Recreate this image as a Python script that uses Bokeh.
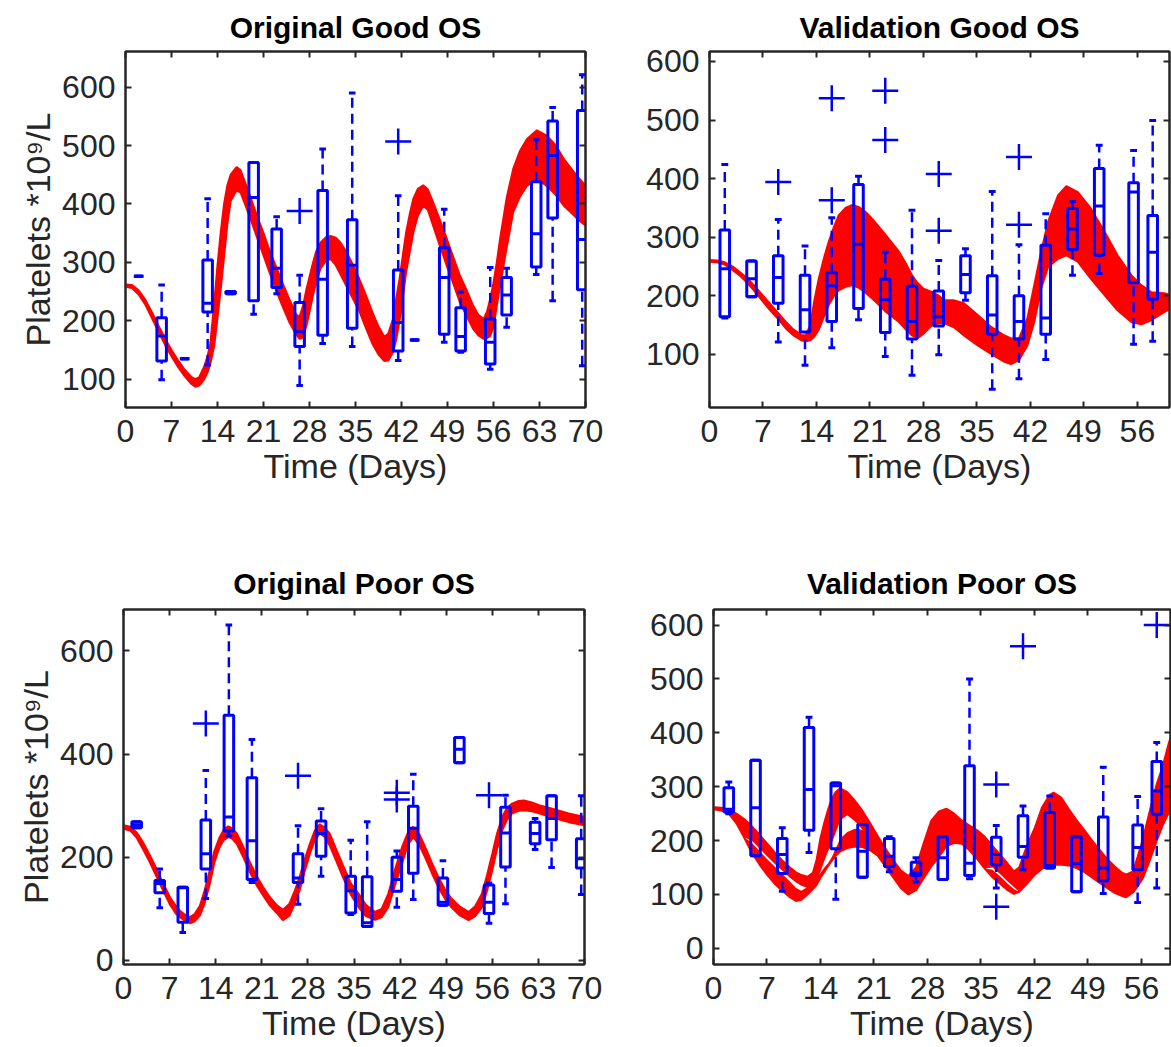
import numpy as np
from bokeh.plotting import figure
from bokeh.models import LinearAxis, FixedTicker, Range1d
from bokeh.layouts import row, column
from bokeh.embed import file_html
from bokeh.resources import INLINE

FONT = "Liberation Sans"
AX = "#262626"
BLUE = "#0000FF"
RED = "#FF0000"

titles = ["Original Good OS", "Validation Good OS", "Original Poor OS", "Validation Poor OS"]
x_label = "Time (Days)"
y_label = "Platelets *10\u2079/L"

# ---------------- Panel 1: Original Good OS ----------------
p1_pos    = [2, 5.5, 9, 12.5, 16, 19.5, 23, 26.5, 30, 34.5, 41.5, 44, 48.5, 51, 55.5, 58, 62.5, 65, 69.5]
p1_whislo = [276, 99, 135, 124, 246, 211, 246, 89, 161, 156, 132, 167, 163, 146, 117, 189, 279, 234, 123]
p1_q1     = [276, 131, 135, 215, 246, 234, 257, 156, 175, 187, 148, 167, 177, 148, 126, 210, 292, 376, 253]
p1_med    = [276, 174, 135, 230, 248, 411, 290, 181, 271, 295, 197, 167, 274, 173, 163, 244, 349, 483, 339]
p1_q3     = [276, 205, 135, 304, 250, 471, 357, 231, 423, 373, 287, 167, 325, 222, 203, 274, 438, 542, 560]
p1_whishi = [276, 261, 135, 409, 250, 471, 378, 278, 494, 590, 414, 167, 391, 249, 291, 290, 510, 565, 621]
p1_out_x  = [26.5, 41.5]
p1_out_y  = [388, 507]
p1_band_d = [0, 1, 2, 3, 4, 5, 6, 7, 8, 9, 10, 10.6, 11.2, 12, 12.5, 12.9, 13.5, 14, 14.5, 15, 15.5, 16,
             16.9, 17.5, 18, 19, 20, 21, 22, 23, 24, 25, 26, 26.5, 27, 27.5, 28, 28.5, 29, 29.7, 30.5,
             31.2, 32, 32.7, 33.6, 34.5, 35.6, 36.5, 37.6, 38.5, 39.4, 40, 40.7, 41.2, 41.7, 42.2, 42.7,
             43.3, 43.8, 44.5, 45.3, 46, 46.8, 48, 48.9, 50, 50.9, 52, 52.9, 53.7, 54.5, 55, 55.5, 56,
             56.5, 57, 58, 59, 60, 61.1, 62.6, 64.1, 65.5, 66.7, 68, 69, 70]
p1_band_hi = [262, 261, 252, 236, 215, 192, 170, 150, 132, 116, 104, 100, 103, 122, 140, 160, 230, 295, 352,
              400, 432, 450, 463, 458, 443, 412, 380, 350, 318, 290, 262, 235, 210, 207, 225, 252, 275, 298,
              318, 334, 343, 345, 342, 334, 318, 298, 271, 246, 214, 190, 172, 178, 203, 238, 271, 312, 351,
              385, 409, 426, 432, 425, 403, 368, 340, 305, 277, 250, 226, 210, 203, 215, 237, 265, 300, 340,
              410, 460, 490, 511, 526, 517, 500, 477, 458, 444, 431]
p1_band_lo = [258, 256, 245, 228, 205, 182, 159, 139, 121, 105, 92, 87, 89, 100, 112, 126, 157, 205, 255,
              310, 365, 405, 423, 420, 405, 375, 343, 312, 280, 250, 222, 196, 176, 169, 171, 190, 215, 242,
              265, 290, 303, 306, 295, 280, 260, 240, 216, 190, 160, 142, 131, 132, 146, 168, 200, 240, 283,
              320, 351, 380, 397, 390, 363, 323, 294, 260, 231, 206, 186, 175, 169, 170, 174, 190, 225, 260,
              325, 386, 412, 431, 443, 431, 415, 397, 383, 372, 363]

# ---------------- Panel 2: Validation Good OS ----------------
p2_pos    = [2, 5.5, 9, 12.5, 16, 19.5, 23, 26.5, 30, 33.5, 37, 40.5, 44, 47.5, 51, 55.5, 58]
p2_whislo = [162, 198, 121, 81, 111, 159, 96, 64, 99, 192, 40, 58, 91, 235, 238, 117, 122]
p2_q1     = [164, 198, 187, 138, 156, 178, 137, 126, 148, 205, 134, 126, 134, 279, 269, 222, 194]
p2_med    = [246, 229, 231, 176, 217, 288, 193, 156, 164, 236, 167, 156, 162, 314, 353, 377, 274]
p2_q3     = [312, 259, 268, 235, 239, 390, 228, 216, 208, 268, 234, 200, 286, 349, 417, 393, 337]
p2_whishi = [424, 259, 330, 285, 333, 404, 274, 346, 260, 280, 378, 287, 340, 361, 457, 448, 499]
p2_out_x  = [9, 16, 16, 23, 23, 30, 30, 40.5, 40.5]
p2_out_y  = [394, 537, 363, 550, 466, 408, 311, 437, 321]
p2_band_d = [0, 1, 2, 3, 4, 5, 6, 7, 8, 9, 10, 11, 12, 12.6, 13.2, 13.7, 14.3, 15, 15.6, 16.3, 16.9, 17.8,
             18.7, 19.6, 20.5, 21.3, 22.2, 23.1, 24, 24.8, 25.7, 26.5, 27.2, 28, 29, 30, 30.7, 32, 33.3,
             35.1, 36.8, 38.6, 39.45, 40.5, 41.6, 42.5, 43.4, 44.3, 45.6, 46.7, 48.2, 49.9, 51.7, 53.4,
             55.2, 56.5, 57.8, 59.5, 60.4]
p2_band_hi = [261, 260, 257, 250, 240, 229, 215, 200, 185, 170, 155, 142, 133, 132, 150, 190, 229, 265, 292,
              318, 337, 350, 355, 351, 342, 331, 317, 303, 288, 275, 255, 235, 222, 212, 207, 200, 192, 192,
              187, 167, 147, 132, 127, 127, 161, 218, 275, 326, 371, 387, 377, 349, 309, 269, 235, 218, 206,
              204, 201]
p2_band_lo = [258, 257, 253, 244, 234, 221, 206, 190, 174, 160, 144, 132, 124, 122, 124, 130, 142, 165, 184,
              200, 209, 215, 218, 213, 204, 195, 184, 172, 163, 155, 142, 132, 127, 135, 148, 153, 153, 146,
              132, 115, 101, 87, 83, 90, 115, 155, 212, 249, 263, 269, 258, 229, 201, 175, 155, 151, 158,
              172, 178]

# ---------------- Panel 3: Original Poor OS ----------------
p3_pos    = [2, 5.5, 9, 12.5, 16, 19.5, 26.5, 30, 34.5, 37, 41.5, 44, 48.5, 51, 55.5, 58, 62.5, 65, 69.5]
p3_whislo = [257, 102, 54, 120, 241, 151, 109, 163, 89, 66, 103, 118, 107, 383, 72, 110, 215, 180, 128]
p3_q1     = [257, 131, 74, 177, 251, 157, 151, 202, 92, 66, 134, 169, 107, 383, 91, 181, 226, 234, 179]
p3_med    = [263, 149, 141, 207, 278, 232, 160, 246, 135, 73, 157, 256, 113, 409, 113, 247, 246, 275, 197]
p3_q3     = [269, 155, 142, 272, 475, 354, 207, 270, 163, 162, 200, 299, 160, 432, 146, 297, 268, 319, 236]
p3_whishi = [269, 177, 142, 368, 650, 428, 261, 294, 233, 269, 212, 361, 193, 432, 150, 320, 275, 319, 319]
p3_out_x  = [12.5, 26.5, 41.5, 41.5, 55.5]
p3_out_y  = [459, 358, 325, 312, 320]
p3_band_d = [0, 1, 2, 2.5, 3, 4, 5, 5.55, 6, 7.07, 8, 8.6, 9.4, 10.1, 10.8, 11.6, 12.3, 13.1, 13.8, 14.6,
             15.2, 15.9, 16.5, 17.2, 18.2, 19.2, 20.2, 21.2, 22.2, 23.2, 24.2, 25.2, 26, 26.75, 27.5, 28.3,
             29, 29.8, 30.5, 31.3, 32.3, 33.3, 34.5, 35.7, 36.8, 38.2, 39.2, 40.2, 41.2, 42.3, 43.2, 44,
             44.9, 45.8, 46.8, 47.8, 48.8, 49.8, 51, 52.4, 53.4, 54.4, 55.2, 56, 56.7, 57.5, 58.2, 59, 60,
             60.8, 62, 63.1, 65.1, 67.6, 70]
p3_band_hi = [262, 259, 248, 238, 228, 204, 178, 162, 150, 122, 105, 96, 88, 84, 90, 106, 135, 175, 212, 239,
              253, 260, 256, 246, 220, 190, 164, 142, 123, 108, 98, 110, 135, 162, 195, 226, 250, 264, 258,
              246, 215, 185, 150, 129, 108, 94, 100, 129, 175, 220, 248, 259, 245, 220, 190, 162, 138, 120,
              105, 94, 105, 129, 165, 207, 245, 278, 295, 304, 309, 310, 306, 301, 294, 285, 278]
p3_band_lo = [255, 252, 238, 226, 215, 190, 163, 148, 136, 108, 90, 84, 76, 72, 76, 87, 110, 148, 190, 220,
              233, 239, 236, 226, 200, 171, 146, 126, 107, 93, 78, 87, 110, 136, 172, 207, 232, 246, 240,
              223, 193, 162, 128, 103, 86, 79, 84, 103, 145, 188, 225, 239, 224, 200, 170, 142, 120, 103,
              88, 78, 86, 103, 135, 175, 215, 252, 272, 285, 290, 291, 289, 285, 277, 268, 262]

# ---------------- Panel 4: Validation Poor OS ----------------
p4_pos    = [2, 5.5, 9, 12.5, 16, 19.5, 23, 26.5, 30, 33.5, 37, 40.5, 44, 47.5, 51, 55.5, 58]
p4_whislo = [250, 172, 106, 178, 91, 132, 142, 123, 128, 129, 112, 146, 149, 105, 102, 85, 112]
p4_q1     = [253, 172, 139, 219, 185, 132, 152, 135, 128, 135, 155, 169, 149, 105, 125, 146, 249]
p4_med    = [258, 261, 174, 295, 302, 180, 171, 140, 168, 158, 174, 189, 154, 157, 149, 187, 292]
p4_q3     = [298, 349, 204, 410, 307, 230, 204, 160, 207, 339, 206, 246, 252, 207, 244, 229, 347]
p4_whishi = [309, 349, 224, 429, 307, 230, 207, 168, 207, 500, 228, 264, 283, 207, 336, 282, 382]
p4_out_x  = [37, 37, 40.5, 58]
p4_out_y  = [304, 77, 561, 600]
p4_band_d = [0, 1, 2, 3, 4, 5, 6, 7, 8, 9, 10, 10.8, 11.5, 12.3, 13, 13.5, 14, 14.5, 15, 15.5, 16, 16.6,
             17.5, 18.5, 19.5, 20.5, 21.5, 22.5, 23.5, 24.5, 25.5, 26.5, 27.5, 28.5, 29.5, 30.5, 31.5,
             32.5, 33.5, 34.5, 35.5, 36.5, 37.5, 38.5, 39.3, 40, 41, 42, 43, 44, 44.5, 45.5, 46.5, 47.5,
             48.5, 49.5, 50.5, 51.5, 52.5, 53.5, 54, 54.9, 55.5, 56.2, 57, 57.5, 58, 58.8, 59.6, 60.5]
# upper family of runs: top edge and bottom edge
p4_a_hi = [262, 261, 257, 250, 240, 227, 211, 195, 178, 163, 150, 141, 136, 133, 140, 165, 205, 233, 258,
           278, 290, 297, 290, 274, 255, 232, 208, 185, 164, 145, 134, 150, 195, 237, 254, 259, 250, 237,
           228, 219, 207, 190, 174, 157, 143, 150, 190, 222, 262, 285, 289, 280, 258, 238, 220, 201, 183,
           166, 152, 140, 137, 143, 170, 204, 250, 278, 305, 339, 382, 420]
p4_a_lo = [258, 256, 250, 232, 206, 200, 186, 171, 157, 144, 131, 122, 116, 112, 118, 126, 142, 162, 180,
           196, 215, 238, 247, 236, 220, 200, 172, 152, 132, 112, 100, 108, 130, 152, 170, 190, 196, 194,
           182, 166, 148, 150, 138, 124, 114, 105, 120, 136, 148, 154, 155, 155, 154, 149, 142, 132, 122,
           112, 103, 97, 95, 104, 115, 131, 160, 180, 200, 229, 253, 280]
# lower family of runs: top edge and bottom edge
p4_b_hi = [258, 256, 250, 232, 206, 196, 181, 166, 152, 138, 124, 112, 107, 114, 125, 132, 140, 150, 158,
           170, 186, 204, 216, 222, 220, 210, 172, 152, 132, 112, 100, 108, 130, 152, 170, 190, 196, 194,
           182, 166, 148, 146, 134, 120, 110, 105, 120, 136, 148, 154, 155, 155, 154, 149, 142, 132, 122,
           112, 103, 97, 95, 104, 115, 131, 160, 180, 200, 229, 253, 280]
p4_b_lo = [258, 256, 250, 232, 206, 178, 156, 137, 120, 107, 95, 88, 90, 100, 110, 118, 131, 142, 153,
           163, 172, 180, 186, 189, 188, 182, 172, 152, 132, 112, 100, 108, 130, 152, 170, 190, 196, 194,
           182, 166, 148, 132, 120, 108, 101, 105, 120, 136, 148, 154, 155, 155, 154, 149, 142, 132, 122,
           112, 103, 97, 95, 104, 115, 131, 160, 180, 200, 229, 253, 280]

x_ticks_70 = [0, 7, 14, 21, 28, 35, 42, 49, 56, 63, 70]
x_ticks_56 = [0, 7, 14, 21, 28, 35, 42, 49, 56]
y_ticks_100 = [100, 200, 300, 400, 500, 600]
y_ticks_0_100 = [0, 100, 200, 300, 400, 500, 600]
y_ticks_0_200 = [0, 200, 400, 600]


def style_axis(ax, ticks, show_labels, label=None, standoff=10):
    ax.ticker = FixedTicker(ticks=ticks)
    ax.major_tick_in = 6
    ax.major_tick_out = 0
    ax.minor_tick_in = 0
    ax.minor_tick_out = 0
    ax.axis_line_color = AX
    ax.axis_line_width = 2
    ax.major_tick_line_color = AX
    ax.major_tick_line_width = 2
    ax.major_label_text_font = FONT
    ax.major_label_text_color = AX
    ax.major_label_text_font_size = "32px"
    ax.major_label_standoff = standoff
    if not show_labels:
        ax.major_label_overrides = {t: "" for t in ticks}
        ax.major_label_standoff = 0
        ax.major_label_text_font_size = "1px"
    if label:
        ax.axis_label = label
        ax.axis_label_text_font = FONT
        ax.axis_label_text_font_size = "34px"
        ax.axis_label_text_font_style = "normal"
        ax.axis_label_text_color = AX
        ax.axis_label_standoff = 2


def make_panel(title, xmax, yr, xticks, yticks, w, h, borders, ylabel=None, title_standoff=20,
               title_lh=1.2):
    bl, br, bt, bb = borders
    p = figure(width=w, height=h, x_range=Range1d(0, xmax), y_range=Range1d(*yr),
               output_backend="svg", toolbar_location=None,
               min_border_left=bl, min_border_right=br, min_border_top=bt, min_border_bottom=bb)
    p.grid.visible = False
    p.background_fill_color = "white"
    p.border_fill_color = "white"
    p.outline_line_color = AX
    p.outline_line_width = 2
    p.title.text = title
    p.title.align = "center"
    p.title.text_font = FONT
    p.title.text_font_size = "30px"
    p.title.text_font_style = "bold"
    p.title.text_color = "#000000"
    p.title.text_line_height = title_lh
    p.title.standoff = title_standoff
    style_axis(p.below[0], xticks, True, x_label, standoff=12)
    style_axis(p.left[0], yticks, True, ylabel, standoff=10)
    top = LinearAxis()
    style_axis(top, xticks, False)
    p.add_layout(top, "above")
    rt = LinearAxis()
    style_axis(rt, yticks, False)
    p.add_layout(rt, "right")
    return p


def draw_band(p, d, lo, hi, edge=True):
    p.varea(x=d, y1=lo, y2=hi, fill_color=RED, fill_alpha=1.0)
    if edge:
        p.line(d, hi, line_color=RED, line_width=2)
        p.line(d, lo, line_color=RED, line_width=2)


def draw_boxes(p, pos, lo, q1, med, q3, hi, ox, oy, bw, cw):
    pos = np.array(pos, dtype=float)
    p.segment(pos, q3, pos, hi, line_color=BLUE, line_width=2.5, line_dash="10 6")
    p.segment(pos, lo, pos, q1, line_color=BLUE, line_width=2.5, line_dash="10 6")
    p.segment(pos - cw / 2, hi, pos + cw / 2, hi, line_color=BLUE, line_width=3)
    p.segment(pos - cw / 2, lo, pos + cw / 2, lo, line_color=BLUE, line_width=3)
    p.quad(left=pos - bw / 2, right=pos + bw / 2, bottom=q1, top=q3,
           fill_color=None, line_color=BLUE, line_width=3)
    p.segment(pos - bw / 2, med, pos + bw / 2, med, line_color=BLUE, line_width=3)
    p.scatter(ox, oy, marker="cross", size=26, line_color=BLUE, line_width=2.5)


# Panel 1
f1 = make_panel(titles[0], 70, (51.4, 661), x_ticks_70, y_ticks_100, 605, 490, (125, 20, 51, 83), y_label,
                title_standoff=16, title_lh=0.9)
draw_band(f1, p1_band_d, p1_band_lo, p1_band_hi)
draw_boxes(f1, p1_pos, p1_whislo, p1_q1, p1_med, p1_q3, p1_whishi, p1_out_x, p1_out_y, 1.45, 1.0)

# Panel 2
f2 = make_panel(titles[1], 60.2, (9, 617), x_ticks_56, y_ticks_100, 566, 490, (104, 2, 51, 83),
                title_standoff=16, title_lh=0.9)
draw_band(f2, p2_band_d, p2_band_lo, p2_band_hi)
draw_boxes(f2, p2_pos, p2_whislo, p2_q1, p2_med, p2_q3, p2_whishi, p2_out_x, p2_out_y, 1.25, 0.9)

# Panel 3
f3 = make_panel(titles[2], 70, (-7.8, 680), x_ticks_70, y_ticks_0_200, 605, 557, (123, 21, 119, 83), y_label)
draw_band(f3, p3_band_d, p3_band_lo, p3_band_hi)
draw_boxes(f3, p3_pos, p3_whislo, p3_q1, p3_med, p3_q3, p3_whishi, p3_out_x, p3_out_y, 1.45, 1.0)

# Panel 4
f4 = make_panel(titles[3], 59.8, (-30, 629), x_ticks_56, y_ticks_0_100, 566, 557, (108, 1, 119, 80))
draw_band(f4, p4_band_d, p4_a_lo, p4_a_hi, edge=False)
draw_band(f4, p4_band_d, p4_b_lo, p4_b_hi, edge=False)
f4.line(p4_band_d, p4_a_hi, line_color=RED, line_width=2)
f4.line(p4_band_d, p4_b_lo, line_color=RED, line_width=2)
draw_boxes(f4, p4_pos, p4_whislo, p4_q1, p4_med, p4_q3, p4_whishi, p4_out_x, p4_out_y, 1.25, 0.9)

layout = column(row(f1, f2, spacing=0), row(f3, f4, spacing=0), spacing=0)

with open("out.html", "w") as fh:
    fh.write(file_html(layout, INLINE))
